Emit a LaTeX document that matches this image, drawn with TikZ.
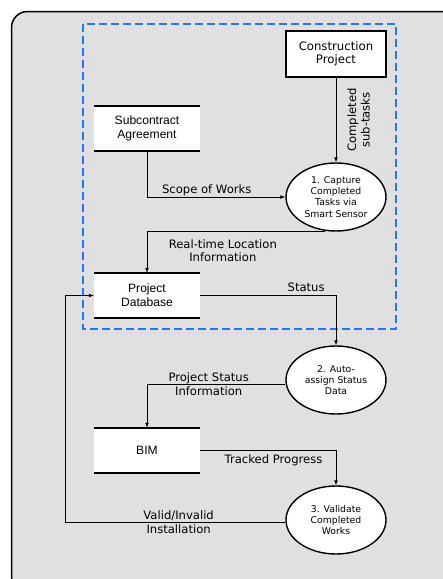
\documentclass[tikz,border=0pt]{standalone}
\usepackage{fontspec}
\setmainfont{DejaVu Sans}
\newfontfamily\storefont{Liberation Sans}
\usetikzlibrary{positioning,shapes.geometric}

\definecolor{panelgray}{RGB}{224,224,224}
\definecolor{scopeblue}{RGB}{30,122,255}

\begin{document}
\begin{tikzpicture}[
    x=1pt, y=-1pt,
    every node/.style={font=\fontsize{11.6}{13.5}\selectfont, align=center},
    process/.style={ellipse, draw, line width=1.4pt, fill=white, minimum width=100pt, minimum height=68pt, inner sep=0pt, font=\fontsize{9.3}{11.2}\selectfont},
    store/.style={fill=white, minimum width=106pt, minimum height=45pt, font=\storefont\fontsize{12.1}{14}\selectfont},
    entity/.style={draw, line width=1.4pt, fill=white, minimum width=100pt, minimum height=46pt, font=\fontsize{11.7}{13.5}\selectfont},
    flow/.style={draw, -latex, line width=0.7pt}
    ]

    \useasboundingbox (0,0) rectangle (443,579);
    \clip (0,0) rectangle (443,579);
    \fill[white] (0,0) rectangle (443,579);
    \draw[line width=1.5pt, fill=panelgray, rounded corners=16pt] (11.5,11.5) rectangle (470,592);
    \draw[scopeblue, line width=1.6pt, dash pattern=on 8pt off 4pt] (83,24) rectangle (396,329);

    % Nodes
    \node[entity] (proj) at (336,54) {Construction\\Project};
    \node[store] (sub) at (147,128.5) {Subcontract\\Agreement};
    \node[process] (cap) at (336,197) {1. Capture\\Completed\\Tasks via\\Smart Sensor};
    \node[store] (db) at (147,295.5) {Project\\Database};
    \node[process] (auto) at (336,380) {2. Auto-\\assign Status\\Data};
    \node[store] (bim) at (147,450.5) {BIM};
    \node[process] (val) at (336,520) {3. Validate\\Completed\\Works};

    \foreach \s in {sub, db, bim} {
        \draw[line width=1.6pt] (\s.north west) -- (\s.north east);
        \draw[line width=1.6pt] (\s.south west) -- (\s.south east);
    }

    % Connections
    \path[flow] (proj) -- node[midway, rotate=90, anchor=north, outer sep=8pt] {Completed\\sub-tasks} (cap);
    \path[flow] (sub.south) |- node[pos=0.716, above, yshift=-3pt] {Scope of Works} (cap.west);
    \path[flow] (cap.-108) -| node[pos=0.287, below, yshift=-5pt] {Real-time Location\\Information} (db.north);
    \path[flow] (db.east) -| node[pos=0.39, above] {Status} (auto.north);
    \path[flow] ([yshift=-4pt]auto.west) -| node[pos=0.277] {Project Status\\Information} (bim.north);
    \path[flow] (bim.east) -| node[pos=0.27, below] {Tracked Progress} (val.north);
    \path[flow] ([yshift=-2pt]val.west) -| node[pos=0.243] {Valid/Invalid\\Installation} ([xshift=-28pt]db.west) |- (db.west);

\end{tikzpicture}
\end{document}
